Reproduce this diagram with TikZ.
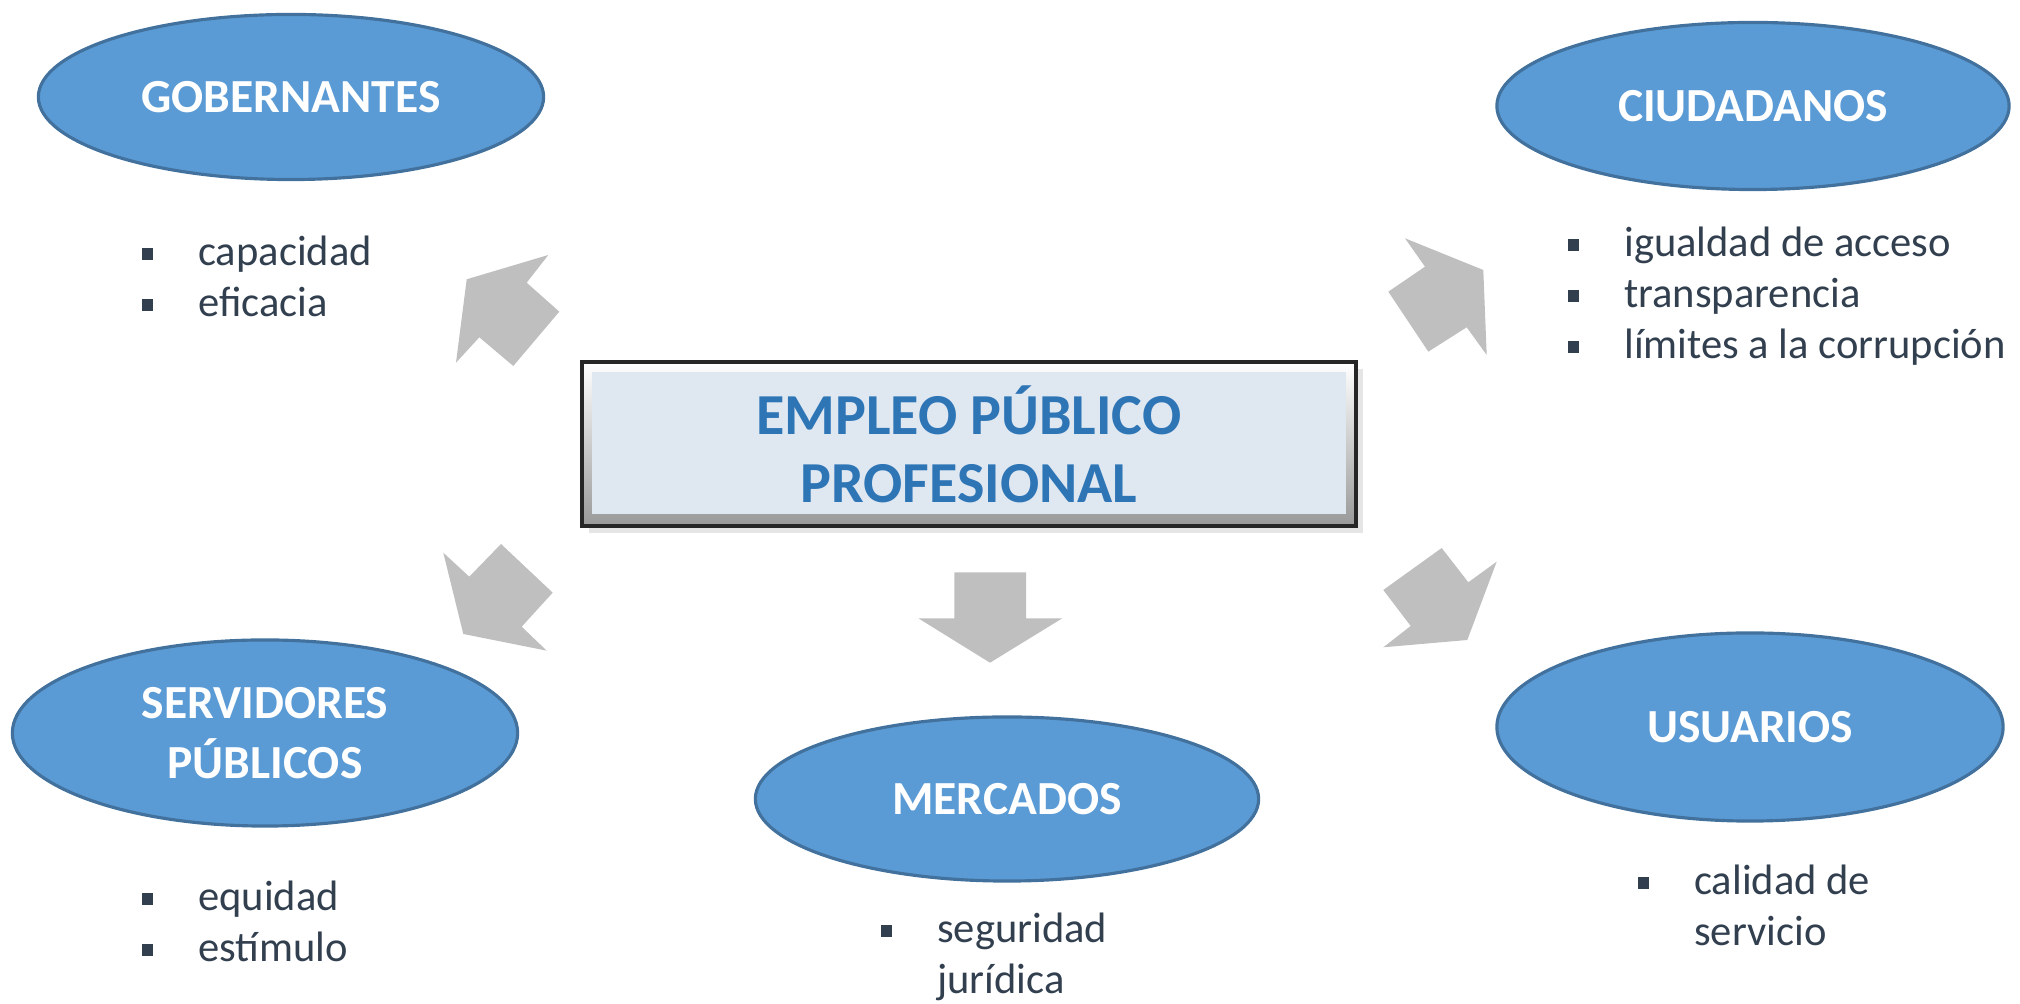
\documentclass[tikz,border=0pt]{standalone}
\usepackage{fontspec}
\setmainfont{Carlito}
\usepackage{tikz}
\usetikzlibrary{shapes.geometric}
\usepackage{xcolor}
\definecolor{ovalfill}{HTML}{5B9BD5}
\definecolor{ovaldraw}{HTML}{41719C}
\definecolor{titleblue}{HTML}{2E75B6}
\definecolor{boxfill}{HTML}{DFE7F1}
\definecolor{arrowgray}{HTML}{BFBFBF}
\definecolor{textdark}{HTML}{323F4F}
\newcommand{\sqbullet}{\textcolor{textdark}{\rule[1.8pt]{3.3pt}{3.3pt}}}

\begin{document}
\begin{tikzpicture}[
    x=0.01cm, y=-0.01cm,
    actor/.style={draw=ovaldraw, line width=0.9pt, fill=ovalfill, ellipse, inner sep=1pt, font=\fontsize{13.5}{17}\selectfont\bfseries, text=white, align=center},
    points/.style={anchor=base west, inner sep=0pt, font=\fontsize{12.1}{14.5}\selectfont, text=textdark},
    blockarrow/.style={fill=arrowgray}
]
\useasboundingbox (0,0) rectangle (2020,1004);

% central box with bevel
\fill[gray!20] (589,369) rectangle (1363,533);
\shade[top color=white, bottom color=gray!80] (582,362) rectangle (1356,526);
\fill[boxfill] (592,372) rectangle (1346,514);
\node[draw=black!85, line width=1.2pt, minimum width=7.74cm, minimum height=1.64cm, font=\fontsize{16.5}{19.3}\selectfont\bfseries, text=titleblue, align=center] (core) at (969,444) {EMPLEO PÚBLICO\\PROFESIONAL};

% actors
\node[actor, minimum width=5.05cm, minimum height=1.65cm] (gob) at (291,97) {GOBERNANTES};
\node[actor, minimum width=5.12cm, minimum height=1.67cm] (ciu) at (1753,106) {CIUDADANOS};
\node[actor, minimum width=5.05cm, minimum height=1.86cm] (ser) at (265,733) {SERVIDORES\\PÚBLICOS};
\node[actor, minimum width=5.03cm, minimum height=1.64cm] (mer) at (1007,799) {MERCADOS};
\node[actor, minimum width=5.06cm, minimum height=1.88cm] (usu) at (1750,727) {USUARIOS};

% block arrows
\fill[blockarrow] (466.7,279.3) -- (548.3,255) -- (526.7,282.7) -- (559.3,311.7) -- (513.3,366) -- (479.3,337.3) -- (456,362.7) -- cycle;
\fill[blockarrow] (463.3,634) -- (443.3,552.7) -- (469.3,576.7) -- (501,544) -- (552.7,592.7) -- (521.7,626.7) -- (546.7,650.7) -- cycle;
\fill[blockarrow] (954.3,572.3) -- (1026,572.3) -- (1026,618.3) -- (1062.3,618.3) -- (990,662.7) -- (918.3,618.3) -- (954.3,618.3) -- cycle;
\fill[blockarrow] (1483.3,270) -- (1486.7,355) -- (1466.7,327.3) -- (1428.3,351.7) -- (1388.3,291.7) -- (1425,266.7) -- (1405,238.3) -- cycle;
\fill[blockarrow] (1467.3,640) -- (1383.3,647.3) -- (1410.7,626) -- (1383.3,590) -- (1441.7,548) -- (1468.3,582.3) -- (1496.7,561.7) -- cycle;

% bullet lists
\node[points] (gobpts) at (141,266) {\begin{tabular}[t]{@{}l@{\hspace{12.8pt}}l@{}}\sqbullet & capacidad\\ \sqbullet & eficacia\end{tabular}};
\node[points] (ciupts) at (1567,257) {\begin{tabular}[t]{@{}l@{\hspace{12.8pt}}l@{}}\sqbullet & igualdad de acceso\\ \sqbullet & transparencia\\ \sqbullet & límites a la corrupción\end{tabular}};
\node[points] (serpts) at (141,911) {\begin{tabular}[t]{@{}l@{\hspace{12.8pt}}l@{}}\sqbullet & equidad\\ \sqbullet & estímulo\end{tabular}};
\node[points] (merpts) at (880,943) {\begin{tabular}[t]{@{}l@{\hspace{12.8pt}}l@{}}\sqbullet & seguridad\\ & jurídica\end{tabular}};
\node[points] (usupts) at (1637,895) {\begin{tabular}[t]{@{}l@{\hspace{12.8pt}}l@{}}\sqbullet & calidad de\\ & servicio\end{tabular}};
\end{tikzpicture}
\end{document}
